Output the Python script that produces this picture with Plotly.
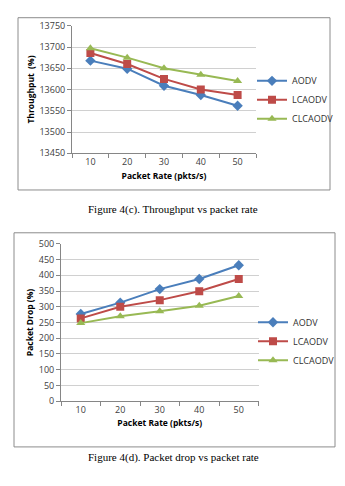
import plotly.graph_objects as go

W, H = 345, 486

# Data
packet_rate = [10, 20, 30, 40, 50]
series_names = ["AODV", "LCAODV", "CLCAODV"]
throughput_aodv = [13668, 13649, 13609, 13587, 13562]
throughput_lcaodv = [13686, 13660, 13625, 13600, 13587]
throughput_clcaodv = [13697, 13675, 13650, 13635, 13620]
drop_aodv = [277, 313, 356, 388, 432]
drop_lcaodv = [263, 300, 321, 349, 388]
drop_clcaodv = [248, 270, 286, 303, 334]
throughput_ticks = [13450, 13500, 13550, 13600, 13650, 13700, 13750]
drop_ticks = [0, 50, 100, 150, 200, 250, 300, 350, 400, 450, 500]

colors = ["#4A7EBB", "#BE4B48", "#98B954"]
symbols = ["diamond", "square", "triangle-up"]
sizes = [8, 8, 8]


def px_x(p):
    return p / W


def px_y(p):
    return 1 - p / H


fig = go.Figure()

tp_series = [throughput_aodv, throughput_lcaodv, throughput_clcaodv]
dr_series = [drop_aodv, drop_lcaodv, drop_clcaodv]

for i, name in enumerate(series_names):
    fig.add_trace(go.Scatter(
        x=packet_rate, y=tp_series[i], name=name, mode="lines+markers",
        line=dict(color=colors[i], width=2),
        marker=dict(symbol=symbols[i], size=sizes[i], color=colors[i]),
        xaxis="x", yaxis="y", legend="legend",
    ))
for i, name in enumerate(series_names):
    fig.add_trace(go.Scatter(
        x=packet_rate, y=dr_series[i], name=name, mode="lines+markers",
        line=dict(color=colors[i], width=2),
        marker=dict(symbol=symbols[i], size=sizes[i], color=colors[i]),
        xaxis="x2", yaxis="y2", legend="legend2",
    ))

tick_font = dict(family="Open Sans, Liberation Sans, sans-serif", size=9, color="#404040")
legend_font = dict(family="Open Sans, Liberation Sans, sans-serif", size=9, color="#303030")
title_font = dict(family="Open Sans, Liberation Sans, sans-serif", size=8.5, color="#000000")
axis_col = "#868686"
grid_col = "#D0D0D0"
boundaries = [5, 15, 25, 35, 45, 55]


def xaxis_cfg(domain, anchor):
    return dict(
        domain=domain, anchor=anchor, range=[5, 55],
        tickvals=packet_rate, ticks="", showgrid=False, zeroline=False,
        showline=True, linecolor=axis_col, linewidth=1,
        tickfont=tick_font,
        title=dict(text="<b>Packet Rate (pkts/s)</b>", font=title_font, standoff=5),
        minor=dict(tickvals=boundaries, ticks="outside", ticklen=4,
                   tickcolor=axis_col, showgrid=False),
    )


def yaxis_cfg(domain, anchor, rng, ticks, title):
    return dict(
        domain=domain, anchor=anchor, range=rng, tickvals=ticks, tickformat="d",
        ticks="outside", ticklen=4, tickcolor=axis_col,
        showgrid=True, gridcolor=grid_col, gridwidth=1, zeroline=False,
        showline=True, linecolor=axis_col, linewidth=1,
        tickfont=tick_font,
        title=dict(text=f"<b>{title}</b>", font=title_font, standoff=3),
    )


fig.update_layout(
    width=W, height=H, margin=dict(l=0, r=0, t=0, b=0),
    paper_bgcolor="white", plot_bgcolor="white",
    xaxis=xaxis_cfg([px_x(72), px_x(256)], "y"),
    yaxis=yaxis_cfg([px_y(150.3), px_y(19.3)], "x", [13450, 13750],
                    throughput_ticks, "Throughput  (%)"),
    xaxis2=xaxis_cfg([px_x(61), px_x(258.5)], "y2"),
    yaxis2=yaxis_cfg([px_y(405), px_y(243.3)], "x2", [0, 500],
                     drop_ticks, "Packet Drop (%)"),
    legend=dict(x=px_x(252), y=px_y(61), xanchor="left", yanchor="top",
                font=legend_font, itemwidth=30, tracegroupgap=0,
                bgcolor="rgba(0,0,0,0)"),
    legend2=dict(x=px_x(253), y=px_y(309), xanchor="left", yanchor="top",
                 font=legend_font, itemwidth=30, tracegroupgap=0,
                 bgcolor="rgba(0,0,0,0)"),
    showlegend=True,
)

# Chart frames
fig.add_shape(type="rect", xref="paper", yref="paper",
              x0=px_x(18), x1=px_x(330), y0=px_y(188), y1=px_y(11),
              line=dict(color="#8C8C8C", width=1))
fig.add_shape(type="rect", xref="paper", yref="paper",
              x0=px_x(14), x1=px_x(335), y0=px_y(452), y1=px_y(232),
              line=dict(color="#8C8C8C", width=1))

# Figure captions
caption_font = dict(family="Liberation Serif, Times New Roman, serif", size=11, color="#000000")
fig.add_annotation(text="Figure 4(c). Throughput vs packet rate", xref="paper", yref="paper",
                   x=px_x(173), y=px_y(208), showarrow=False, font=caption_font,
                   xanchor="center", yanchor="middle")
fig.add_annotation(text="Figure 4(d). Packet drop vs packet rate", xref="paper", yref="paper",
                   x=px_x(173), y=px_y(463), showarrow=False, font=caption_font,
                   xanchor="center", yanchor="middle")

fig.write_html("out.html")
